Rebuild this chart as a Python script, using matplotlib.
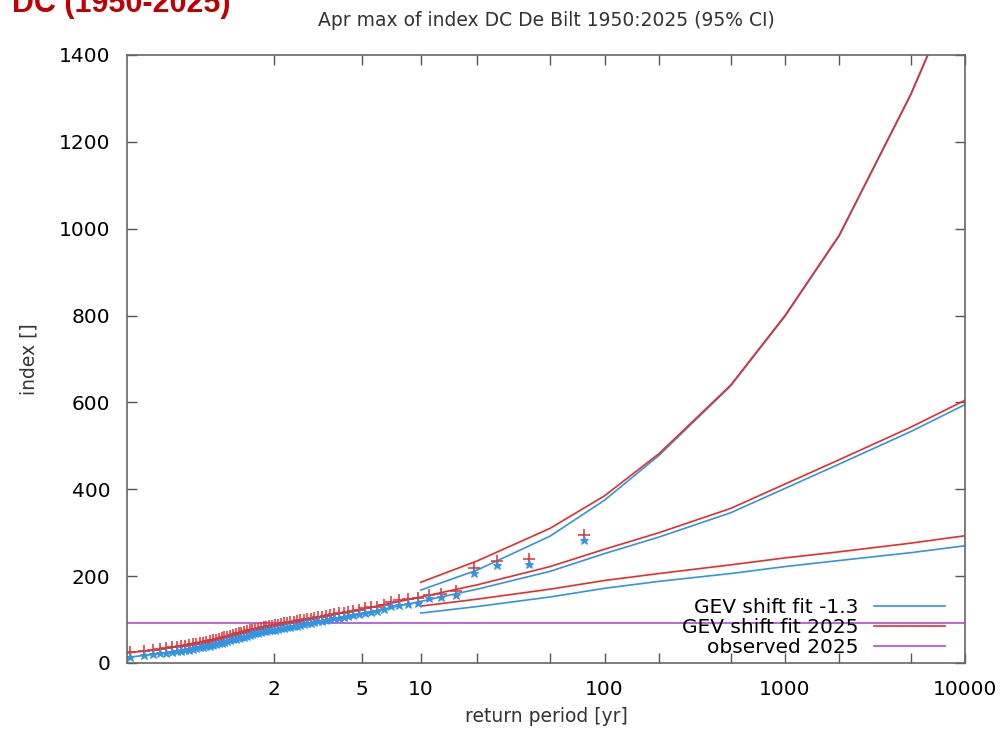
import numpy as np
import matplotlib
matplotlib.use("Agg")
import matplotlib.pyplot as plt

# observed April maxima of index DC, sorted from largest down, shifted to two climates
obs_2025 = [294, 239, 235, 218, 166, 158, 157, 149,
            147, 144, 141, 134, 130, 128, 126, 122, 120, 118, 116, 114,
            113, 111, 109, 107, 106, 104, 102, 101, 99, 98, 96, 95, 94, 92,
            91, 90, 88, 87, 86, 85, 84, 83, 81, 79, 78, 76, 75, 73, 71, 70,
            68, 66, 65, 63, 61, 59, 57, 55, 54, 52, 50, 49, 47, 46, 44, 43,
            41, 40, 38, 37, 36, 34, 32, 30, 28, 25]
obs_past = [284, 229, 225, 208, 157, 151, 149, 139,
            137, 134, 131, 124, 120, 118, 116, 112, 110, 108, 106, 104,
            103, 101, 99, 97, 96, 94, 92, 91, 89, 88, 86, 85, 84, 82,
            81, 80, 78, 77, 76, 75, 74, 73, 71, 69, 68, 66, 65, 63, 61, 60,
            58, 56, 55, 53, 51, 49, 47, 45, 44, 42, 40, 39, 37, 36, 34, 33,
            31, 30, 28, 27, 26, 24, 22, 20, 18, 13]

# central GEV fits
fit_T = [1.011, 1.05, 1.1, 1.25, 1.5, 2, 3, 5, 10, 20, 50, 100, 200, 500,
         1000, 2000, 5000, 10000]
fit_2025 = [23, 31, 38, 52, 66, 84, 104, 124, 152, 180, 222, 262, 300, 356,
            412, 468, 543, 605]
fit_past = [13, 21, 28, 42, 56, 74, 94, 114, 142, 170, 211, 252, 290, 346,
            402, 458, 533, 595]

# 95% confidence bounds
ci_T = [10, 20, 50, 100, 200, 500, 1000, 2000, 5000, 10000]
hi_2025 = [186, 235, 310, 385, 482, 640, 800, 985, 1310, 1600]
hi_past = [168, 214, 292, 375, 478, 638, 798, 983, 1308, 1598]
lo_2025 = [131, 147, 170, 190, 206, 226, 242, 256, 276, 293]
lo_past = [115, 130, 152, 172, 188, 206, 222, 236, 254, 270]

observed_2025 = 91

xticks = [2, 5, 10, 20, 50, 100, 200, 500, 1000, 2000, 5000, 10000]
xticklabels = ["2", "5", "10", "", "", "100", "", "", "1000", "", "", "10000"]

blue = "#2f95e4"
red = "#ec2b2b"
purple = "#b857de"


def gumbel(T):
    T = np.clip(np.asarray(T, dtype=float), 1.0001, None)
    return -np.log(-np.log(1 - 1 / T))


def gumbel_inv(g):
    g = np.asarray(g, dtype=float)
    return 1 / (1 - np.exp(-np.exp(-g)))


n = len(obs_2025)
ret_period = (n + 1) / np.arange(1, n + 1)

fig = plt.figure(figsize=(10.08, 7.40), dpi=100)
ax = fig.add_axes([127 / 1008, 77 / 740, 838 / 1008, 608 / 740])
ax.set_xscale("function", functions=(gumbel, gumbel_inv))

ax.plot(fit_T, fit_past, color=blue, lw=1.2, label="GEV shift fit -1.3")
ax.plot(fit_T, fit_2025, color=red, lw=1.2, label="GEV shift fit 2025")
ax.plot(ci_T, hi_past, color=blue, lw=1.2)
ax.plot(ci_T, lo_past, color=blue, lw=1.2)
ax.plot(ci_T, hi_2025, color=red, lw=1.2)
ax.plot(ci_T, lo_2025, color=red, lw=1.2)
ax.axhline(observed_2025, color=purple, lw=1.3, label="observed 2025")

ax.plot(ret_period, obs_2025, "+", color=red, ms=8, mew=1.1)
ax.plot(ret_period, obs_past, "*", color=blue, ms=6.5, mew=0.6)

ax.set_xlim(1.011, 10000)
ax.set_ylim(0, 1400)
ax.set_xticks(xticks)
ax.set_xticklabels(xticklabels)
ax.minorticks_off()
ax.set_yticks(range(0, 1401, 200))
ax.tick_params(direction="in", length=7, width=1, color="#555555",
               top=True, right=True, labelsize=14.5)
ax.tick_params(axis="x", pad=12)
ax.tick_params(axis="y", pad=12)
for s in ax.spines.values():
    s.set_color("#666666")
    s.set_linewidth(1.2)

ax.set_xlabel("return period [yr]", fontsize=13.5, color="#333333", labelpad=6)
ax.set_ylabel("index []", fontsize=13.5, color="#333333", labelpad=15)
ax.set_title("Apr max of index DC De Bilt 1950:2025 (95% CI)", fontsize=13.5,
             color="#333333", pad=21)

leg = ax.legend(loc="lower right", bbox_to_anchor=(0.976, 0.01), frameon=False,
                markerfirst=False, fontsize=14.5, handlelength=3.5,
                handletextpad=0.8, labelspacing=0.05, borderpad=0,
                borderaxespad=0)

fig.text(0.012, 1 - 12 / 740, "DC (1950-2025)", fontsize=22, fontweight="bold",
         color="#c00000", family="Liberation Sans", va="baseline")

fig.savefig("out.png", dpi=100)
